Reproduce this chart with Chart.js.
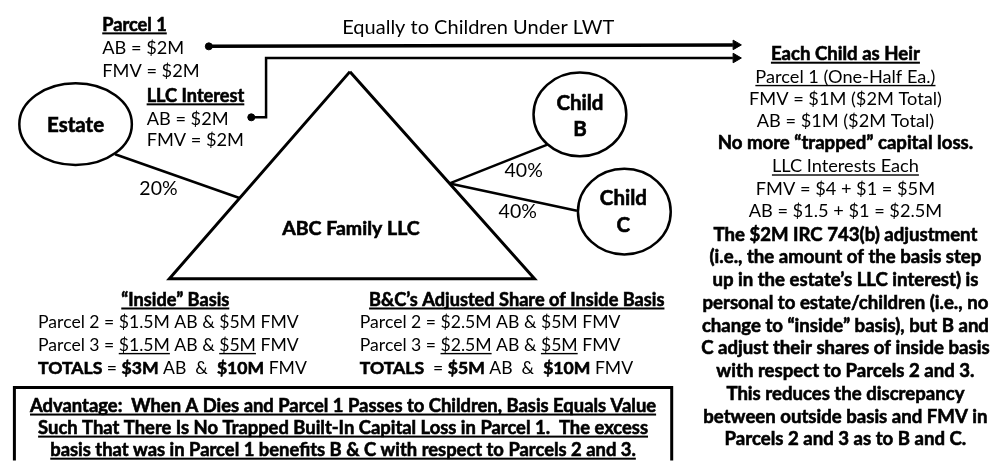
<!DOCTYPE html>
<html><head><meta charset="utf-8">
<script src="https://cdn.jsdelivr.net/npm/chart.js@4/dist/chart.umd.min.js"></script>
<style>html,body{margin:0;padding:0;background:#fff;overflow:hidden}canvas{display:block}</style>
</head><body>
<canvas id="c" width="997" height="467"></canvas>
<script>
// ---------- content (text values) ----------
const parcel1Lines = ["Parcel 1", "AB = $2M", "FMV = $2M"];
const llcInterestLines = ["LLC Interest", "AB = $2M", "FMV = $2M"];
const transferLabel = "Equally to Children Under LWT";
const ownershipShares = ["20%", "40%", "40%"];
const nodeNames = ["Estate", "ABC Family LLC"];
const childNames = [["Child", "B"], ["Child", "C"]];
const heirLines = ["Each Child as Heir", "Parcel 1 (One-Half Ea.)", "FMV = $1M ($2M Total)",
  "AB = $1M ($2M Total)", "No more \u201ctrapped\u201d capital loss.", "LLC Interests Each",
  "FMV = $4 + $1 = $5M", "AB = $1.5 + $1 = $2.5M"];
const noteLines = ["The $2M IRC 743(b) adjustment", "(i.e., the amount of the basis step",
  "up in the estate\u2019s LLC interest) is", "personal to estate/children (i.e., no",
  "change to \u201cinside\u201d basis), but B and", "C adjust their shares of inside basis",
  "with respect to Parcels 2 and 3.", "This reduces the discrepancy",
  "between outside basis and FMV in", "Parcels 2 and 3 as to B and C."];
const insideTitle = "\u201cInside\u201d Basis";
const insideAB = ["$1.5M", "$1.5M", "$3M"];
const adjustedTitle = "B&C\u2019s Adjusted Share of Inside Basis";
const adjustedAB = ["$2.5M", "$2.5M", "$5M"];
const parcelFMV = ["$5M", "$5M", "$10M"];
const advantageLines = ["Advantage:  When A Dies and Parcel 1 Passes to Children, Basis Equals Value",
  "Such That There Is No Trapped Built-In Capital Loss in Parcel 1.  The excess",
  "basis that was in Parcel 1 benefits B & C with respect to Parcels 2 and 3."];

// ---------- geometry (diagram coordinates) ----------
const triangle = [{x:348,y:67},{x:535,y:280},{x:165,y:280},{x:348,y:67}];
const estateLink = [{x:110,y:152},{x:236,y:197}];
const childBLink = [{x:449,y:182},{x:548,y:142}];
const childCLink = [{x:449,y:182},{x:578,y:210}];
const parcelArrow = [{x:205,y:41},{x:736,y:39.5}];
const llcArrow = [{x:248,y:114},{x:263,y:114},{x:263,y:53},{x:736,y:53}];
const arrowHeads = [{x:739,y:39.5},{x:739,y:53}];
const dots = [{x:205,y:41},{x:248,y:114}];
const advantageBox = [{x:8,y:475},{x:8,y:392},{x:674,y:392},{x:674,y:475}];
const nodes = [
  {cx:70, cy:121, rx:57, ry:42},
  {cx:581, cy:111, rx:47, ry:43},
  {cx:626, cy:211, rx:47, ry:44}
];

const FONT = "Lato";
const B = true, U = true;
const N = 18.2;   // normal text size
const BB = 18.6;  // bold paragraph size
const S = 17.6;   // basis tables size

function lineDs(data, w){
  return {data, showLine:true, borderColor:'#000', borderWidth:w, pointRadius:0, fill:false, tension:0, borderJoinStyle:'miter'};
}

// y is the visual centre of capital letters
function drawParts(ctx, x, y, align, size, parts){
  let total = 0;
  const ws = parts.map(p => { ctx.font = (p[1] ? 'bold ' : '') + size + 'px ' + FONT; const w = ctx.measureText(p[0]).width; total += w; return w; });
  let sx = align === 'center' ? x - total/2 : (align === 'right' ? x - total : x);
  const base = y + size*0.36;
  parts.forEach((p, i) => {
    ctx.font = (p[1] ? 'bold ' : '') + size + 'px ' + FONT;
    ctx.fillText(p[0], sx, base);
    if (p[1]) { ctx.lineWidth = 0.6; ctx.strokeText(p[0], sx, base); }
    if (p[2]) ctx.fillRect(sx, base + size*0.1, ws[i], p[1] ? 2 : 1.4);
    sx += ws[i];
  });
}

const diagramText = {
  id: 'diagramText',
  afterDatasetsDraw(chart){
    const ctx = chart.ctx, sx = chart.scales.x, sy = chart.scales.y;
    const X = v => sx.getPixelForValue(v), Y = v => sy.getPixelForValue(v);
    ctx.save();
    ctx.strokeStyle = '#000'; ctx.lineWidth = 2.5;
    nodes.forEach(n => {
      ctx.beginPath();
      ctx.ellipse(X(n.cx), Y(n.cy), X(n.cx + n.rx) - X(n.cx), Y(n.cy + n.ry) - Y(n.cy), 0, 0, Math.PI*2);
      ctx.stroke();
    });
    ctx.fillStyle = '#000'; ctx.strokeStyle = '#000'; ctx.textBaseline = 'alphabetic';
    const T = (x, y, align, size, parts) => drawParts(ctx, X(x), Y(y), align, size, parts);

    T(97, 18, 'left', N, [[parcel1Lines[0], B, U]]);
    T(97, 42, 'left', N, [[parcel1Lines[1]]]);
    T(97, 66, 'left', N, [[parcel1Lines[2]]]);
    T(142, 91, 'left', N, [[llcInterestLines[0], B, U]]);
    T(142, 115, 'left', N, [[llcInterestLines[1]]]);
    T(142, 137, 'left', N, [[llcInterestLines[2]]]);
    T(478, 21, 'center', 20, [[transferLabel]]);

    T(70, 121, 'center', 20.5, [[nodeNames[0], B]]);
    T(349, 228, 'center', 19.5, [[nodeNames[1], B]]);
    T(581, 99, 'center', 20.5, [[childNames[0][0], B]]);
    T(581, 126, 'center', 20.5, [[childNames[0][1], B]]);
    T(625, 197, 'center', 20.5, [[childNames[1][0], B]]);
    T(625, 224, 'center', 20.5, [[childNames[1][1], B]]);
    T(154, 187, 'center', 19.5, [[ownershipShares[0]]]);
    T(524, 168, 'center', 19.5, [[ownershipShares[1]]]);
    T(518, 210, 'center', 19.5, [[ownershipShares[2]]]);

    const hy = [48, 72, 95, 117, 140, 164, 187, 210];
    const hstyle = [[B,U],[false,U],[],[],[B],[false,U],[],[]];
    heirLines.forEach((s, i) => T(850, hy[i], 'center', hstyle[i][0] ? BB : N, [[s, hstyle[i][0], hstyle[i][1]]]));
    noteLines.forEach((s, i) => T(850, 234 + i*23.4, 'center', BB, [[s, B]]));

    T(171, 301, 'center', N, [[insideTitle, B, U]]);
    T(32, 324, 'left', S, [["Parcel 2 = " + insideAB[0] + " AB & " + parcelFMV[0] + " FMV"]]);
    T(32, 348, 'left', S, [["Parcel 3 = "], [insideAB[1], false, U], [" AB & "], [parcelFMV[1], false, U], [" FMV"]]);
    T(32, 371, 'left', S, [["TOTALS", B], [" = "], [insideAB[2], B], [" AB  &  "], [parcelFMV[2], B], [" FMV"]]);

    T(517, 301, 'center', N, [[adjustedTitle, B, U]]);
    T(358, 324, 'left', S, [["Parcel 2 = " + adjustedAB[0] + " AB & " + parcelFMV[0] + " FMV"]]);
    T(358, 348, 'left', S, [["Parcel 3 = "], [adjustedAB[1], false, U], [" AB & "], [parcelFMV[1], false, U], [" FMV"]]);
    T(358, 371, 'left', S, [["TOTALS", B], ["  = "], [adjustedAB[2], B], [" AB  &  "], [parcelFMV[2], B], [" FMV"]]);

    advantageLines.forEach((s, i) => T(341, 410 + i*22.7, 'center', 18.4, [[s, B, U]]));
    ctx.restore();
  }
};

const chart = new Chart(document.getElementById('c'), {
  type: 'scatter',
  data: { datasets: [
    lineDs(triangle, 3),
    lineDs(estateLink, 2.5),
    lineDs(childBLink, 2.5),
    lineDs(childCLink, 2.5),
    lineDs(parcelArrow, 3.5),
    lineDs(llcArrow, 2.5),
    lineDs(advantageBox, 3),
    {data: arrowHeads, pointStyle:'triangle', rotation:90, pointRadius:5.5, backgroundColor:'#000', borderColor:'#000', borderWidth:1, showLine:false},
    {data: dots, pointStyle:'circle', pointRadius:3.5, backgroundColor:'#000', borderColor:'#000', showLine:false}
  ]},
  options: {
    responsive:false, animation:false, devicePixelRatio:1,
    layout:{padding:0},
    plugins:{legend:{display:false}, tooltip:{enabled:false}},
    events:[],
    scales:{
      x:{type:'linear', min:0, max:997, display:false},
      y:{type:'linear', min:0, max:467, reverse:true, display:false}
    }
  },
  plugins:[diagramText]
});
</script>
</body></html>
